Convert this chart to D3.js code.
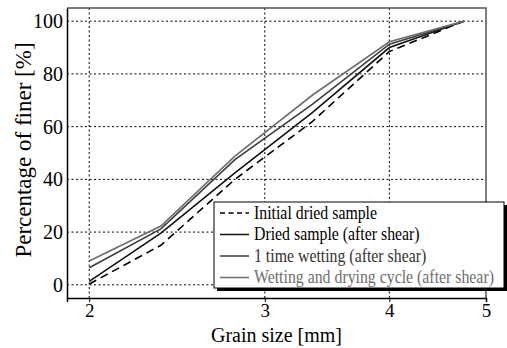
<!DOCTYPE html>
<html>
<head>
<meta charset="utf-8">
<script src="https://cdn.jsdelivr.net/npm/d3@7"></script>
</head>
<body style="margin:0">
<script>
// Chart size
let width = 507;
let height = 348;
let serif = '"Liberation Serif"';

// Plot box
let margin = { top: 8, right: 21, bottom: 50, left: 67 };

// Data
const grainSizes = [2, 2.36, 2.8, 3.35, 4, 4.75];
const initialDried = [0.3, 15, 40, 62, 88.5, 100];
const driedShear = [1.3, 19.6, 42.5, 65.4, 90, 100];
const oneWetting = [6.5, 21.2, 47.5, 68.5, 91.3, 100];
const wetDryCycle = [9, 22.3, 48.8, 72, 92.2, 100];

const xTicks = [2, 3, 4, 5];
const yTicks = [0, 20, 40, 60, 80, 100];

const seriesNames = [
    "Initial dried sample",
    "Dried sample (after shear)",
    "1 time wetting (after shear)",
    "Wetting and drying cycle (after shear)"
];

// Styles kept apart from the data
const styles = [
    { color: "#000", dash: "8,5", legendDash: "5,3.5", text: "#000" },
    { color: "#111", dash: null, legendDash: null, text: "#000" },
    { color: "#3c3c3c", dash: null, legendDash: null, text: "#333" },
    { color: "#6e6e6e", dash: null, legendDash: null, text: "#6e6e6e" }
];

const allSeries = [initialDried, driedShear, oneWetting, wetDryCycle];

let svg = d3.select("body").append("svg")
    .attr("width", width)
    .attr("height", height);

const x = d3.scaleLog()
    .domain([1.9, 5])
    .range([margin.left, width - margin.right]);

const y = d3.scaleLinear()
    .domain([-5, 105])
    .range([height - margin.bottom, margin.top]);

// Grid lines
svg.append("g")
    .selectAll("line")
    .data(xTicks.filter(d => d < 5))
    .join("line")
    .attr("x1", d => x(d)).attr("x2", d => x(d))
    .attr("y1", margin.top).attr("y2", height - margin.bottom)
    .attr("stroke", "#000").attr("stroke-width", 1)
    .attr("stroke-dasharray", "2,2.5");

svg.append("g")
    .selectAll("line")
    .data(yTicks)
    .join("line")
    .attr("x1", margin.left).attr("x2", width - margin.right)
    .attr("y1", d => y(d)).attr("y2", d => y(d))
    .attr("stroke", "#000").attr("stroke-width", 1)
    .attr("stroke-dasharray", "2,2.5");

// Frame: top and right in gray
svg.append("path")
    .attr("d", `M${margin.left},${margin.top}H${width - margin.right}V${height - margin.bottom}`)
    .attr("fill", "none").attr("stroke", "#555").attr("stroke-width", 1.5);

// Bottom axis
const xAxis = svg.append("g")
    .attr("transform", `translate(0,${height - margin.bottom})`)
    .call(d3.axisBottom(x).tickValues(xTicks).tickFormat(d3.format("d")).tickSize(4).tickPadding(2));
xAxis.attr("font-family", null).attr("font-size", null);
xAxis.select(".domain").attr("stroke", "#000").attr("stroke-width", 1.5);
xAxis.selectAll("text").attr("font-size", 19).style("font-family", serif).attr("fill", "#000");

// Left axis
const yAxis = svg.append("g")
    .attr("transform", `translate(${margin.left},0)`)
    .call(d3.axisLeft(y).tickValues(yTicks).tickSize(0).tickPadding(4));
yAxis.attr("font-family", null).attr("font-size", null);
yAxis.select(".domain").attr("stroke", "#000").attr("stroke-width", 1.5);
yAxis.selectAll("text").attr("font-size", 20).style("font-family", serif).attr("fill", "#000");

// Curves
const line = d3.line()
    .x((d, i) => x(grainSizes[i]))
    .y(d => y(d));

svg.append("g")
    .selectAll("path")
    .data(allSeries)
    .join("path")
    .attr("d", d => line(d))
    .attr("fill", "none")
    .attr("stroke", (d, i) => styles[i].color)
    .attr("stroke-width", 1.6)
    .attr("stroke-dasharray", (d, i) => styles[i].dash);

// Axis titles
svg.append("text")
    .attr("x", (margin.left + width - margin.right) / 2)
    .attr("y", 342)
    .attr("text-anchor", "middle")
    .attr("font-size", 20)
    .style("font-family", serif)
    .text("Grain size [mm]");

svg.append("text")
    .attr("transform", `translate(31,150) rotate(-90)`)
    .attr("text-anchor", "middle")
    .attr("font-size", 23)
    .style("font-family", serif)
    .text("Percentage of finer [%]");

// Legend
let legend = { x: 214, y: 202, w: 290, h: 86, row: 21.5 };

svg.append("rect")
    .attr("x", legend.x + 3).attr("y", legend.y + 3)
    .attr("width", legend.w).attr("height", legend.h)
    .attr("fill", "#000");

svg.append("rect")
    .attr("x", legend.x).attr("y", legend.y)
    .attr("width", legend.w).attr("height", legend.h)
    .attr("fill", "#fff").attr("stroke", "#000").attr("stroke-width", 1);

const legendRows = svg.append("g")
    .selectAll("g")
    .data(seriesNames)
    .join("g")
    .attr("transform", (d, i) => `translate(${legend.x}, ${legend.y + 11 + i * legend.row})`);

legendRows.append("line")
    .attr("x1", 6).attr("x2", 35)
    .attr("stroke", (d, i) => styles[i].color)
    .attr("stroke-width", 1.5)
    .attr("stroke-dasharray", (d, i) => styles[i].legendDash);

// the legend font is narrow in the picture, so squeeze it a little
legendRows.append("text")
    .attr("transform", "translate(40,0) scale(0.88,1)")
    .attr("dy", "0.33em")
    .attr("font-size", 18)
    .style("font-family", serif)
    .attr("fill", (d, i) => styles[i].text)
    .text(d => d);
</script>
</body>
</html>
